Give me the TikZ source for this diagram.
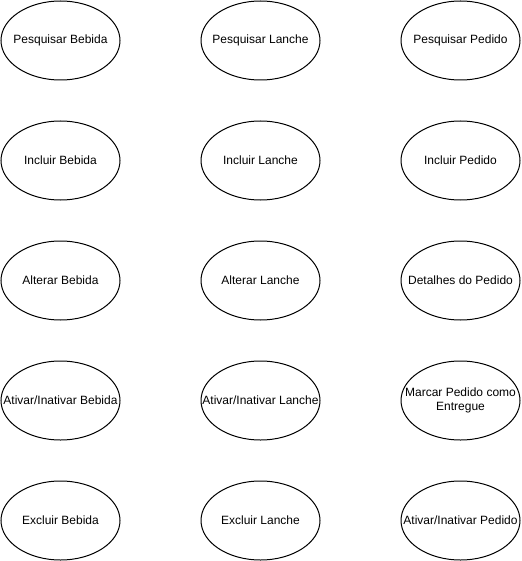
\documentclass[tikz,border=0pt]{standalone}
\usepackage{fontspec}
\setmainfont{Liberation Sans}
\begin{document}
\begin{tikzpicture}[x=1pt,y=-1pt,
  uc/.style={rectangle,minimum width=119pt,minimum height=79pt,inner sep=0pt,align=center,font=\fontsize{12pt}{14pt}\selectfont},
  ucline/.style={draw=black,line width=1pt}]
\useasboundingbox (0,0) rectangle (521,561);
\node[uc] (pb) at (60.5,40.5) {Pesquisar Bebida};
\node[uc] (pl) at (260.5,40.5) {Pesquisar Lanche};
\node[uc] (pp) at (460.5,40.5) {Pesquisar Pedido};
\node[uc] (ib) at (60.5,160.5) {Incluir Bebida};
\node[uc] (il) at (260.5,160.5) {Incluir Lanche};
\node[uc] (ip) at (460.5,160.5) {Incluir Pedido};
\node[uc] (ab) at (60.5,280.5) {Alterar Bebida};
\node[uc] (al) at (260.5,280.5) {Alterar Lanche};
\node[uc] (dp) at (460.5,280.5) {Detalhes do Pedido};
\node[uc] (aib) at (60.5,400.5) {Ativar/Inativar Bebida};
\node[uc] (ail) at (260.5,400.5) {Ativar/Inativar Lanche};
\node[uc] (mp) at (460.5,400.5) {Marcar Pedido como\\Entregue};
\node[uc] (eb) at (60.5,520.5) {Excluir Bebida};
\node[uc] (el) at (260.5,520.5) {Excluir Lanche};
\node[uc] (aip) at (460.5,520.5) {Ativar/Inativar Pedido};
\foreach \n in {pb,pl,pp,ib,il,ip,ab,al,dp,aib,ail,mp,eb,el,aip}
  \draw[ucline] (\n.center) ellipse[x radius=59.5pt,y radius=39.5pt];
\end{tikzpicture}
\end{document}
